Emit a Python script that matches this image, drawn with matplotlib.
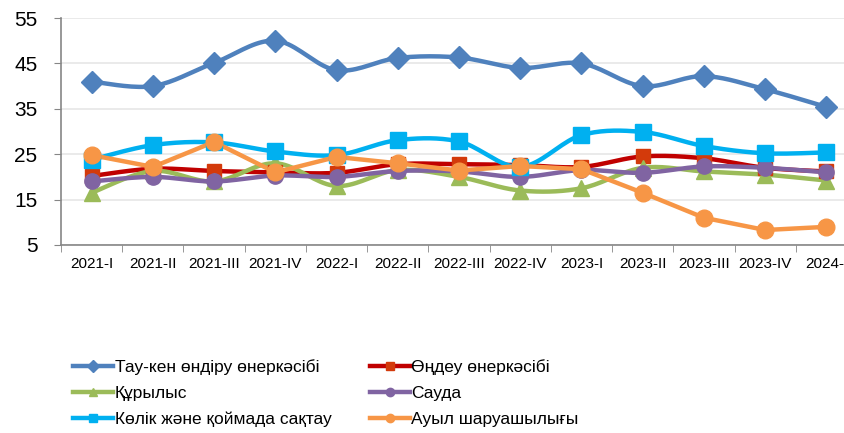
import numpy as np
import matplotlib
matplotlib.use("Agg")
import matplotlib.pyplot as plt
from matplotlib.lines import Line2D

plt.rcParams['font.family'] = ['Liberation Sans', 'DejaVu Sans']

quarters = ['2021-I', '2021-II', '2021-III', '2021-IV', '2022-I', '2022-II', '2022-III',
            '2022-IV', '2023-I', '2023-II', '2023-III', '2023-IV', '2024-I']

mining = [41.0, 40.0, 45.1, 50.0, 43.5, 46.2, 46.3, 44.0, 45.0, 40.0, 42.2, 39.3, 35.4]
manufacturing = [20.2, 21.8, 21.3, 21.0, 20.9, 22.8, 22.8, 22.6, 22.2, 24.5, 24.1, 22.0, 21.2]
construction = [16.5, 21.3, 19.0, 23.0, 18.0, 21.5, 20.0, 17.0, 17.5, 22.0, 21.2, 20.5, 19.2]
trade = [19.0, 20.0, 19.0, 20.3, 20.0, 21.3, 21.2, 20.0, 21.5, 20.9, 22.3, 22.0, 21.0]
transport = [23.8, 27.0, 27.6, 25.6, 24.8, 28.1, 27.8, 22.2, 29.2, 29.9, 26.8, 25.2, 25.4]
agriculture = [24.8, 22.2, 27.7, 21.0, 24.4, 23.0, 21.4, 22.4, 21.7, 16.5, 11.0, 8.3, 9.0]

labels = ['Тау-кен өндіру өнеркәсібі', 'Өңдеу өнеркәсібі', 'Құрылыс', 'Сауда',
          'Көлік және қоймада сақтау', 'Ауыл шаруашылығы']


def smooth(y, n=20):
    # Catmull-Rom style smoothing like Excel's smoothed line
    y = np.asarray(y, float)
    x = np.arange(len(y), dtype=float)
    px = np.concatenate([[x[0]], x, [x[-1]]])
    py = np.concatenate([[y[0]], y, [y[-1]]])
    xs, ys = [], []
    t = np.linspace(0, 1, n)
    bez = lambda a, b1, b2, c: (1 - t) ** 3 * a + 3 * (1 - t) ** 2 * t * b1 + 3 * (1 - t) * t ** 2 * b2 + t ** 3 * c
    for i in range(1, len(px) - 2):
        p0, p1, p2, p3 = py[i - 1], py[i], py[i + 1], py[i + 2]
        q0, q1, q2, q3 = px[i - 1], px[i], px[i + 1], px[i + 2]
        xs.append(bez(q1, q1 + (q2 - q0) / 6, q2 - (q3 - q1) / 6, q2))
        ys.append(bez(p1, p1 + (p2 - p0) / 6, p2 - (p3 - p1) / 6, p2))
    return np.concatenate(xs), np.concatenate(ys)


fig = plt.figure(figsize=(8.44, 4.33), dpi=100)
ax = fig.add_axes([61 / 844, 1 - 245 / 433, 796 / 844, 227 / 433])

series = [
    (mining, '#4F81BD', '#4F81BD', 'D', 11, True),
    (manufacturing, '#C00000', '#D33A0B', 's', 10, True),
    (construction, '#9BBB59', '#9BBB59', '^', 11, True),
    (trade, '#8064A2', '#8064A2', 'o', 11, True),
    (transport, '#00B0F0', '#00B0F0', 's', 11, True),
    (agriculture, '#F79646', '#F79646', 'o', 12, False),
]

x = np.arange(len(quarters))
handles = []
for (vals, lc, mc, mk, ms, sm), lab in zip(series, labels):
    if sm:
        sx, sy = smooth(vals)
    else:
        sx, sy = x, np.asarray(vals)
    ax.plot(sx, sy, color=lc, lw=3.2, solid_capstyle='round', zorder=3)
    ax.plot(x, vals, ls='none', marker=mk, ms=ms, color=mc, mec=mc, zorder=4)
    handles.append(Line2D([0], [0], color=lc, lw=3.2, marker=mk, ms=6, mfc=mc, mec=mc, label=lab))

ax.set_ylim(5, 55)
ax.set_yticks(range(5, 56, 10))
ax.set_xlim(-0.5, len(quarters) - 0.5)
ax.set_xticks(x)
ax.set_xticklabels(quarters, fontsize=11)
ax.set_xticks(np.arange(-0.5, len(quarters), 1), minor=True)
ax.tick_params(axis='x', which='major', length=0, pad=9)
ax.tick_params(axis='x', which='minor', length=5, color='#868686')
ax.tick_params(axis='y', labelsize=15, length=5, color='#868686', pad=12)
ax.grid(axis='y', color='#E6E6E6', lw=1.2, zorder=0)
for s in ['top', 'right']:
    ax.spines[s].set_visible(False)
for s in ['left', 'bottom']:
    ax.spines[s].set_color('#868686')
    ax.spines[s].set_linewidth(1.2)

order = [0, 2, 4, 1, 3, 5]
fig.legend([handles[i] for i in order], [labels[i] for i in order], ncol=2,
           loc='upper left', bbox_to_anchor=(73 / 844, 1 - 359 / 433), frameon=False,
           fontsize=12.5, handlelength=2.3, handletextpad=0.1, columnspacing=2.2,
           labelspacing=0.62, borderaxespad=0, borderpad=0)

fig.savefig('out.png', dpi=100)
